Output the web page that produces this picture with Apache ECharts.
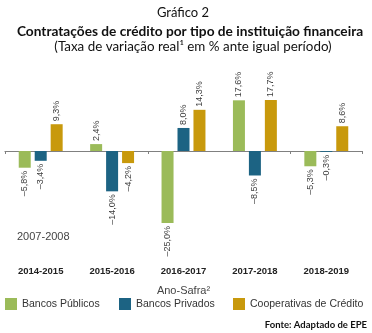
<!DOCTYPE html>
<html>
<head>
<meta charset="utf-8">
<script src="https://cdn.jsdelivr.net/npm/echarts@6/dist/echarts.min.js"></script>
<style>html,body{margin:0;padding:0;background:#fff}#c{width:372px;height:333px}</style>
</head>
<body>
<div id="c"></div>
<script>
const categories = ['2014-2015', '2015-2016', '2016-2017', '2017-2018', '2018-2019'];
const seriesNames = ['Bancos Públicos', 'Bancos Privados', 'Cooperativas de Crédito'];
const bancosPublicos = [-5.8, 2.4, -25.0, 17.6, -5.3];
const bancosPrivados = [-3.4, -14.0, 8.0, -8.5, -0.3];
const cooperativas = [9.3, -4.2, 14.3, 17.7, 8.6];
const colors = ['#9BBB59', '#1C6383', '#C8990C'];

const sans = "'Liberation Sans', Arial, sans-serif";

function fmt(v) {
  return (v < 0 ? '\u2013' : '') + Math.abs(v).toFixed(1).replace('.', ',') + '%';
}
function makeData(arr) {
  return arr.map(v => ({
    value: v,
    label: v >= 0
      ? { position: 'top', align: 'left' }
      : { position: 'bottom', align: 'right' }
  }));
}
const allVals = [bancosPublicos, bancosPrivados, cooperativas];
const legendLefts = [5, 119, 233];

const chart = echarts.init(document.getElementById('c'), null, { renderer: 'canvas' });
chart.setOption({
  animation: false,
  grid: { left: 5, right: 10, top: 93.4, bottom: 78.3, containLabel: false },
  xAxis: [
    {
      type: 'category', data: categories, position: 'bottom',
      axisLine: { onZero: true, lineStyle: { color: '#808080', width: 1.2 } },
      axisTick: { show: true, length: 3, lineStyle: { color: '#808080' } },
      axisLabel: { show: false }
    },
    {
      type: 'category', data: categories, position: 'bottom',
      axisLine: { show: false, onZero: false },
      axisTick: { show: false },
      axisLabel: { show: true, margin: 12, fontFamily: sans, fontSize: 9.5, fontWeight: 'bold', color: '#222' },
      name: 'Ano-Safra\u00B2', nameLocation: 'middle', nameGap: 31,
      nameTextStyle: { fontFamily: sans, fontSize: 11, color: '#444' }
    }
  ],
  yAxis: { type: 'value', min: -36, max: 20, show: false, splitLine: { show: false } },
  legend: seriesNames.map((n, i) => ({
    left: legendLefts[i], top: 298, itemWidth: 12, itemHeight: 12, itemGap: 0,
    icon: 'rect', padding: 0,
    textStyle: { fontFamily: sans, fontSize: 10.5, color: '#333', padding: [0, 0, 0, 0] },
    data: [n]
  })),
  series: seriesNames.map((n, i) => ({
    name: n, type: 'bar', xAxisIndex: 0, barWidth: 12, barGap: '33%',
    itemStyle: { color: colors[i] },
    label: {
      show: true, rotate: 90, distance: 3, verticalAlign: 'middle',
      fontFamily: sans, fontSize: 9, color: '#404040',
      formatter: p => fmt(p.value)
    },
    data: makeData(allVals[i])
  })),
  graphic: [
    { type: 'text', x: 183, y: 13, style: { text: 'Gráfico 2', font: "13px Lato, 'Open Sans', sans-serif", fill: '#111', textAlign: 'center', textVerticalAlign: 'middle' } },
    { type: 'text', x: 190, y: 32, style: { text: 'Contratações de crédito por tipo de instituição financeira', font: "bold 13.7px Lato, 'Open Sans', sans-serif", fill: '#111', textAlign: 'center', textVerticalAlign: 'middle' } },
    { type: 'text', x: 193, y: 47, style: { text: '(Taxa de variação real\u00B9 em % ante igual período)', font: "13.4px Lato, 'Open Sans', sans-serif", fill: '#111', textAlign: 'center', textVerticalAlign: 'middle' } },
    { type: 'text', x: 17, y: 237, style: { text: '2007-2008', font: "11px " + sans, fill: '#444', textVerticalAlign: 'middle' } },
    { type: 'text', x: 367, y: 325, style: { text: 'Fonte: Adaptado de EPE', font: "bold 9.5px Lato, 'Open Sans', sans-serif", fill: '#111', textAlign: 'right', textVerticalAlign: 'middle' } }
  ]
});
</script>
</body>
</html>
